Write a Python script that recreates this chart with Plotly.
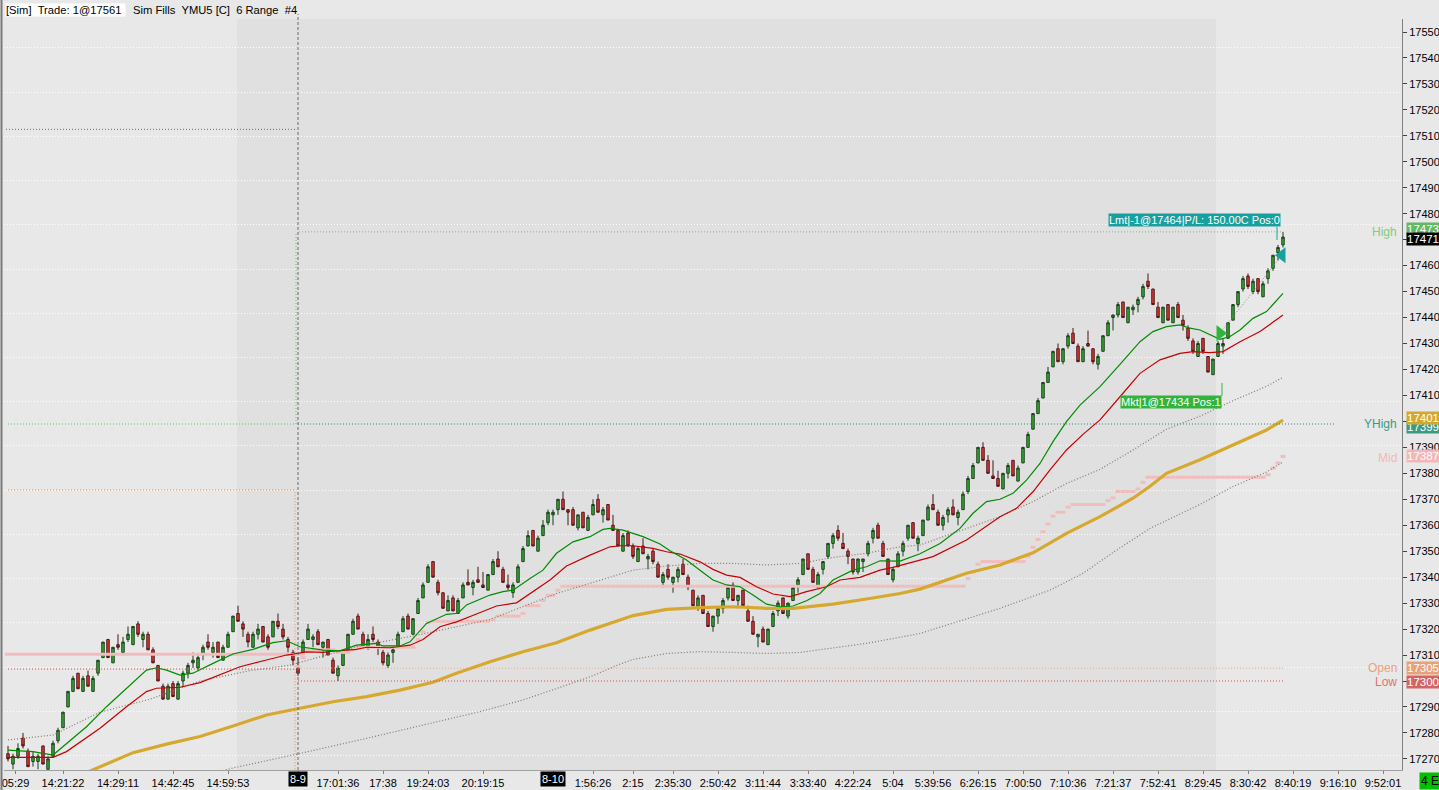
import plotly.graph_objects as go

# ---------------- data (6-range bars, YMU5) ----------------
bar_open = [17272,17268,17271,17278,17273,17269,17269,17275,17266,17271,17277,17282,17290,17296,17303,17296,17302,17296,17303,17309,
            17316,17307,17314,17311,17316,17314,17322,17316,17318,17312,17306,17298,17293,17299,17293,17300,17303,17307,17305,17310,
            17315,17311,17315,17308,17313,17319,17326,17322,17318,17313,17318,17321,17317,17317,17323,17320,17316,17311,17305,17311,
            17316,17316,17319,17313,17316,17308,17302,17306,17312,17318,17325,17318,17313,17318,17315,17311,17306,17311,17313,17319,
            17325,17318,17326,17332,17338,17346,17338,17334,17327,17332,17326,17332,17338,17336,17339,17337,17335,17341,17347,17343,
            17337,17334,17338,17346,17352,17358,17350,17356,17361,17364,17366,17370,17366,17366,17359,17365,17358,17364,17370,17364,
            17368,17360,17358,17350,17357,17352,17346,17352,17347,17350,17345,17338,17343,17338,17340,17345,17340,17335,17328,17333,
            17326,17321,17325,17328,17332,17337,17331,17335,17327,17323,17317,17320,17314,17321,17327,17332,17325,17331,17337,17341,
            17349,17343,17336,17343,17348,17353,17358,17353,17350,17347,17342,17346,17349,17355,17360,17353,17347,17339,17344,17350,
            17355,17361,17353,17356,17362,17368,17365,17360,17364,17367,17363,17366,17373,17378,17384,17390,17385,17379,17378,17374,
            17380,17385,17377,17384,17390,17397,17403,17409,17415,17421,17428,17423,17429,17434,17429,17423,17430,17428,17422,17427,
            17433,17440,17441,17446,17438,17443,17445,17448,17454,17451,17444,17438,17445,17438,17445,17439,17436,17431,17425,17432,
            17425,17418,17425,17429,17432,17439,17445,17451,17456,17450,17455,17448,17455,17459,17465,17468]
bar_high = [17275,17272,17276,17280,17274,17273,17272,17275,17271,17277,17282,17288,17296,17302,17303,17302,17304,17302,17308,17315,
            17316,17313,17318,17317,17321,17321,17323,17319,17319,17313,17306,17299,17299,17300,17300,17304,17307,17311,17310,17314,
            17318,17315,17315,17314,17319,17325,17329,17323,17319,17319,17322,17321,17318,17323,17326,17322,17317,17312,17309,17316,
            17322,17318,17320,17315,17316,17309,17306,17312,17318,17324,17326,17319,17318,17321,17316,17312,17311,17313,17319,17325,
            17326,17324,17332,17338,17345,17346,17339,17334,17333,17333,17332,17338,17343,17339,17344,17342,17341,17347,17350,17344,
            17341,17338,17345,17352,17358,17358,17356,17362,17366,17366,17370,17373,17366,17367,17364,17365,17364,17370,17372,17367,
            17368,17364,17358,17357,17358,17353,17352,17355,17349,17351,17346,17342,17345,17340,17344,17347,17341,17335,17333,17333,
            17327,17325,17328,17332,17337,17338,17333,17335,17329,17325,17318,17321,17320,17327,17331,17332,17330,17337,17340,17347,
            17349,17344,17342,17346,17353,17357,17360,17357,17351,17347,17347,17347,17354,17359,17361,17354,17347,17344,17350,17354,
            17360,17361,17356,17362,17368,17372,17366,17364,17367,17370,17366,17373,17379,17384,17390,17392,17387,17385,17381,17380,
            17384,17385,17383,17390,17396,17403,17409,17415,17421,17427,17430,17428,17434,17436,17430,17429,17435,17428,17426,17433,
            17439,17441,17446,17446,17444,17445,17448,17453,17457,17451,17446,17444,17445,17444,17446,17441,17437,17432,17431,17432,
            17425,17424,17431,17432,17438,17445,17450,17456,17457,17455,17455,17454,17459,17464,17468,17473]
bar_low = [17269,17266,17270,17274,17267,17267,17266,17268,17265,17271,17276,17282,17290,17296,17297,17296,17298,17296,17302,17309,
           17309,17307,17312,17311,17315,17314,17317,17313,17312,17307,17300,17293,17293,17294,17293,17298,17301,17305,17304,17308,
           17312,17309,17309,17308,17313,17319,17323,17317,17313,17313,17316,17315,17312,17317,17320,17316,17311,17306,17302,17310,
           17316,17313,17314,17309,17310,17303,17300,17306,17312,17318,17320,17313,17312,17315,17310,17306,17305,17307,17313,17319,
           17320,17318,17326,17332,17338,17340,17333,17328,17327,17327,17326,17332,17337,17333,17338,17336,17335,17341,17344,17338,
           17335,17332,17338,17346,17352,17352,17350,17356,17360,17360,17364,17366,17360,17360,17358,17359,17358,17364,17365,17361,
           17362,17358,17352,17350,17352,17347,17346,17349,17343,17345,17340,17336,17339,17334,17338,17341,17335,17329,17327,17326,
           17321,17319,17322,17326,17331,17331,17328,17329,17323,17318,17313,17315,17314,17321,17325,17326,17324,17331,17334,17341,
           17343,17338,17336,17341,17347,17351,17354,17351,17345,17341,17341,17342,17348,17353,17355,17348,17341,17338,17344,17348,
           17354,17355,17350,17356,17362,17366,17360,17358,17361,17364,17360,17366,17372,17378,17384,17385,17380,17378,17375,17374,
           17378,17379,17377,17384,17390,17397,17403,17409,17415,17421,17423,17422,17428,17430,17423,17423,17429,17422,17420,17427,
           17433,17435,17440,17440,17438,17441,17442,17447,17451,17445,17440,17438,17439,17438,17440,17435,17431,17426,17425,17426,
           17419,17418,17425,17426,17432,17439,17444,17450,17451,17449,17449,17448,17453,17458,17462,17467]
bar_close = [17270,17271,17274,17275,17267,17271,17271,17268,17270,17276,17281,17288,17296,17301,17297,17301,17298,17301,17308,17315,
             17309,17313,17313,17315,17318,17321,17318,17318,17312,17307,17300,17293,17298,17294,17299,17303,17306,17308,17309,17313,
             17313,17313,17309,17313,17318,17325,17323,17320,17315,17318,17320,17315,17313,17323,17321,17317,17313,17308,17303,17315,
             17320,17317,17314,17315,17310,17303,17305,17311,17318,17323,17320,17313,17316,17316,17313,17307,17310,17312,17318,17324,
             17320,17324,17331,17337,17344,17340,17334,17328,17331,17327,17331,17337,17337,17338,17338,17336,17341,17346,17344,17338,
             17336,17337,17344,17351,17356,17352,17355,17360,17365,17365,17370,17366,17365,17360,17364,17359,17363,17368,17365,17366,
             17362,17358,17352,17356,17352,17348,17351,17349,17348,17346,17340,17341,17340,17340,17343,17341,17336,17329,17332,17326,
             17321,17325,17328,17331,17336,17331,17333,17329,17323,17318,17318,17315,17320,17326,17330,17326,17330,17336,17339,17347,
             17343,17338,17341,17346,17353,17356,17355,17351,17348,17342,17347,17347,17353,17358,17355,17348,17341,17343,17349,17353,
             17360,17355,17355,17362,17367,17366,17360,17363,17366,17364,17365,17372,17378,17383,17390,17385,17380,17378,17375,17380,
             17383,17379,17382,17390,17395,17403,17408,17415,17419,17427,17423,17428,17433,17430,17423,17428,17429,17423,17425,17433,
             17438,17441,17445,17440,17444,17444,17447,17452,17452,17445,17440,17444,17439,17444,17440,17437,17432,17427,17430,17427,
             17419,17424,17430,17430,17438,17445,17450,17455,17452,17454,17450,17453,17458,17464,17467,17471]

# indicator values (bar index, price)
ema_fast_idx = [0,5,9,11.7,15.7,19.7,23.7,27.7,29.7,31.7,34.4,37,41,45,49,53,55.7,58.4,63,66.4,69.7,73.7,75,78.4,80.4,83.7,87.7,90,
                91.7,96.4,99,101,104.4,107,109.7,113,116.4,119,120.4,123,127,130.4,132.4,135.7,138.4,141,143.7,146.4,149,151.7,154.4,
                157,159.7,162.4,165,169,171.7,174.4,178.4,182.4,186.4,190.4,193,195.7,198.4,201,203.7,206.4,209,211.7,214.4,217,218.4,
                222.4,226.4,229,231.7,234.4,236.4,238.4,240.4,242.4,244.4,246.4,249,251.7,255]
ema_fast_val = [17273.4,17272.8,17271.5,17276,17282.4,17290.1,17297.2,17304.2,17305.1,17304.2,17302.3,17303,17306.8,17310.4,17312.2,
                17314.8,17315.5,17313.2,17311.9,17311.6,17313.8,17314.5,17313.5,17313.5,17315.1,17322.2,17325.7,17326.1,17329.3,17333.1,
                17334.4,17335,17339.5,17342.7,17349.2,17353.6,17355.6,17358.4,17358.8,17358.1,17355.6,17352.8,17350.2,17346.6,17342.7,
                17338.9,17337,17336.3,17333.1,17329.6,17328.6,17328.9,17330.9,17333.7,17338.9,17342.7,17344,17346.3,17346.2,17349,17353,
                17358.8,17364.6,17369.1,17370,17372.3,17377.4,17383.8,17392.2,17399.9,17406.3,17410.8,17413.4,17422,17430.7,17434.6,
                17436.5,17437.2,17435.9,17435.2,17433.3,17431.6,17432.7,17435.2,17439.7,17442.3,17449.3]
ema_slow_idx = [0,9,11.7,18.4,23.7,27.7,29.7,34.4,38.4,42.4,46.4,51.7,55.7,59.7,63,65,69.7,71.7,76.4,80.4,83,86.4,89.7,93.7,97.7,
                101.7,104.4,108.4,111.7,116.4,120.4,122.4,125,129,131.7,134.4,138.4,141,143.7,146.4,149.7,153,156.4,159.7,163.7,166.4,
                170.4,174.4,177,181,185,191.7,198.4,201.7,205,208.4,211.7,215,218.4,222.4,226.4,230.4,234.4,237,240.4,243,246.4,250.4,255]
ema_slow_val = [17270.6,17270.6,17272.8,17281.8,17290.1,17295.9,17297.2,17297.6,17299.4,17302.3,17305.5,17308.1,17310,17311.2,17311,
                17311.5,17312.2,17313,17312.8,17313.8,17316,17320.9,17322.8,17325.8,17328.9,17330.1,17333.7,17338.9,17344.3,17348.5,
                17351.7,17352.1,17352.1,17351.1,17349.8,17348.9,17345.9,17343,17340.8,17339.9,17336.3,17333.5,17332.5,17334.4,17336.3,
                17338.9,17339.9,17342.7,17343.8,17345.9,17347.9,17354.3,17363.3,17366.5,17372.9,17381.3,17389,17395,17400.6,17409.5,
                17418.5,17423.7,17426.2,17426.9,17426.5,17426.9,17430.7,17434.6,17441]
sma_idx = [10,17.7,25,31.7,38.4,45,51.7,58.4,65,71.7,78.4,85,89.7,96.4,103,109.7,116.4,122.4,125,131.7,138.4,145,151.7,157,165,171.7,
           178.4,182.4,191.7,198.4,205,211.7,218.4,225,228.4,231.7,238.4,245,251.7,255]
sma_val = [17260,17266.4,17272.4,17275.7,17278.6,17282.7,17286.9,17289.5,17292,17294,17296.5,17299.5,17303,17307.4,17311.3,17314.7,
           17319.6,17323.5,17325.2,17327.6,17328.3,17328.6,17328,17328,17329.6,17331.6,17333.7,17335.4,17341.5,17344.7,17349.4,17356.9,
           17363.3,17370.4,17375,17380,17385.2,17390.9,17396.7,17400.5]
env_up_idx = [0,9,18.4,28.4,38.4,48.4,56.4,62,69.7,83,96.4,109.7,118.4,125,131.7,138.4,145,151.7,158.4,165,171.7,178.4,182.4,191.7,
              198.4,205,211.7,218.4,225,231.7,238.4,245,251.7,255]
env_up_val = [17277.3,17279.2,17288,17293,17300,17304,17306.1,17309,17313.2,17318.1,17323.7,17333.7,17338.9,17342.7,17344.3,17345.3,
              17345.3,17344.7,17345.3,17347.6,17349.2,17351.7,17352.4,17358.8,17363.3,17369.1,17376.1,17381.5,17389,17397,17402,17408,
              17413.5,17417]
env_dn_idx = [36,45,58.4,71.7,94.4,103,109.7,116.4,122.4,125,131.7,138.4,145,151.7,158.4,165,171.7,182.4,191.7,198.4,208.4,215,221.7,
              228.4,238.4,245,251.7,255]
env_dn_val = [17262,17266.5,17272.1,17277.9,17288.2,17292.7,17297.1,17301.6,17306.5,17308.3,17310.6,17311.3,17311,17310.6,17311,17312.6,
              17314.5,17318.3,17324,17328,17335,17341.5,17350.4,17358.8,17368,17374.9,17380.5,17384.4]

# session / reference levels
session_start = 58
yhigh = 17399
prev_ref_high = 17512.5
prev_open = 17373.6
prev_low = 17304.6
prev_mid = 17310.3
entry_bar, entry_price = 242.4, 17434
exit_bar, exit_price = 254.8, 17464
last_price = 17471
sma_last = 17401

tick_idx = [1.5,11,22,33,44,58,66,75,84,95,109,117,125,133,142,151,160,169,177,185,194,203,212,221,230,239,248,257,266,275]
tick_text = ["05:29","14:21:22","14:29:11","14:42:45","14:59:53","","17:01:36","17:38","19:24:03","20:19:15","",
             "1:56:26","2:15","2:35:30","2:50:42","3:11:44","3:33:40","4:22:24","5:04","5:39:56","6:26:15","7:00:50",
             "7:10:36","7:21:37","7:52:41","8:29:45","8:30:42","8:40:19","9:16:10","9:52:01"]
date_marks = [(58, "8-9"), (109, "8-10")]

# ---------------- derived session values ----------------
n = len(bar_close)
idx = list(range(n))
sess_high = max(bar_high[session_start:])
sess_low = min(bar_low[session_start:])
sess_open = bar_open[session_start]

mid_x, mid_y = [], []
hi, lo = -1e9, 1e9
for i in range(session_start, n):
    hi = max(hi, bar_high[i]); lo = min(lo, bar_low[i])
    m = (hi + lo) / 2
    mid_x += [i - 0.5, i + 0.5, None]
    mid_y += [m, m, None]
mid_last = (sess_high + sess_low) / 2

# ---------------- geometry helpers ----------------
W, H = 1439, 790
ML, MR, MT, MB = 4, 37, 19, 20
PW, PH = W - ML - MR, H - MT - MB
def PX(x): return (x - ML) / PW
def PY(y): return (H - MB - y) / PH
def XI(x): return (x - 8) / 5.0

FONT = "Liberation Sans, Arial, sans-serif"

fig = go.Figure()

fig.add_trace(go.Scatter(x=mid_x, y=mid_y, mode="lines", line=dict(color="#f2bcbc", width=3), hoverinfo="skip"))
fig.add_trace(go.Scatter(x=[-0.6, 59.4], y=[prev_mid, prev_mid], mode="lines", line=dict(color="#f2bcbc", width=3), hoverinfo="skip"))
fig.add_trace(go.Scatter(x=sma_idx, y=sma_val, mode="lines", line=dict(color="#d6a82e", width=3.2), hoverinfo="skip"))
fig.add_trace(go.Scatter(x=env_up_idx, y=env_up_val, mode="lines", line=dict(color="#86776b", width=1.2, dash="1px,2px"), hoverinfo="skip"))
fig.add_trace(go.Scatter(x=env_dn_idx, y=env_dn_val, mode="lines", line=dict(color="#86776b", width=1.2, dash="1px,2px"), hoverinfo="skip"))
fig.add_trace(go.Scatter(x=ema_slow_idx, y=ema_slow_val, mode="lines", line=dict(color="#c80000", width=1.2), hoverinfo="skip"))
fig.add_trace(go.Scatter(x=ema_fast_idx, y=ema_fast_val, mode="lines", line=dict(color="#008c00", width=1.2), hoverinfo="skip"))

fig.add_trace(go.Candlestick(
    x=idx, open=bar_open, high=bar_high, low=bar_low, close=bar_close,
    increasing=dict(fillcolor="#34b234", line=dict(color="#1d3a1d", width=1)),
    decreasing=dict(fillcolor="#e23a3a", line=dict(color="#4a1414", width=1)),
    whiskerwidth=0, hoverinfo="skip"))

# trade markers
fig.add_trace(go.Scatter(x=[entry_bar, exit_bar], y=[entry_price, exit_price], mode="lines",
                         line=dict(color="#8a8a8a", width=1, dash="1px,2px"), hoverinfo="skip"))
fig.add_trace(go.Scatter(x=[entry_bar], y=[entry_price], mode="markers",
                         marker=dict(symbol="triangle-right", size=14, color="#32b43c"), hoverinfo="skip"))
fig.add_trace(go.Scatter(x=[exit_bar], y=[exit_price], mode="markers",
                         marker=dict(symbol="triangle-left", size=14, color="#18a0a0"), hoverinfo="skip"))

DOT = "1px,2px"
shapes = []
def hline(x0, x1, y, color, dash=DOT, width=1):
    shapes.append(dict(type="line", xref="x", yref="y", x0=x0, x1=x1, y0=y, y1=y,
                       line=dict(color=color, width=width, dash=dash), layer="above"))
def vline(x, y0, y1, color, dash=DOT, width=1):
    shapes.append(dict(type="line", xref="x", yref="y", x0=x, x1=x, y0=y0, y1=y1,
                       line=dict(color=color, width=width, dash=dash), layer="above"))

# session shading
shapes.append(dict(type="rect", xref="x", yref="paper", x0=XI(237), x1=XI(1216), y0=0, y1=1,
                   fillcolor="#e0e0e0", line=dict(width=0), layer="below"))
# previous-session reference lines
hline(-0.4, 57.4, prev_ref_high, "#2a8a78")
hline(0, 57.4, yhigh, "#62c262")
vline(57.6, yhigh, sess_high, "#62c262")
hline(0, 57.4, prev_open, "#f08a40")
vline(57.4, 17266, prev_open, "#f08a40")
hline(0, 57.6, prev_low, "#e04848")
# current session lines
hline(58.2, n - 1, sess_high, "#8fae8f")
hline(58, XI(1335), yhigh, "#2a8a78")
hline(58, n - 1, sess_open, "#f0956a")
hline(58, n - 1, sess_low, "#e04848")
# trade label stems
vline(242.8, 17409.8, 17414.8, "#32b43c", dash="solid")
vline(253.8, 17469.9, 17474.9, "#18a0a0", dash="solid")
# session break
shapes.append(dict(type="line", xref="x", yref="paper", x0=58, x1=58, y0=0, y1=PY(14),
                   line=dict(color="#6a6a6a", width=1, dash="3px,2px"), layer="above"))
# left border
shapes.append(dict(type="line", xref="paper", yref="paper", x0=PX(1.5), x1=PX(1.5), y0=PY(H), y1=PY(0),
                   line=dict(color="#7a7a7a", width=2)))

ann = []
def box(y, text, bg, fg="#ffffff"):
    ann.append(dict(xref="paper", yref="y", x=PX(1406), y=y, xanchor="left", yanchor="middle",
                    text=text, showarrow=False, bgcolor=bg, borderpad=0,
                    font=dict(family=FONT, size=11.5, color=fg)))
def tag(y, text, color):
    ann.append(dict(xref="paper", yref="y", x=PX(1399), y=y, xanchor="right", yanchor="middle",
                    text=text, showarrow=False, font=dict(family=FONT, size=12, color=color)))

box(sess_high + 1, str(sess_high), "#63b863")
box(last_price - 0.8, str(last_price), "#000000")
tag(sess_high, "High", "#7ccf7c")
box(yhigh - 1.3, str(yhigh), "#3a9a84")
box(sma_last + 0.5, str(sma_last), "#d4a82c")
tag(yhigh, "YHigh", "#3a9a84")
box(mid_last, str(round(mid_last + 0.01)), "#f2b8b8")
tag(mid_last - 0.5, "Mid", "#f2b8b8")
box(sess_open, str(sess_open), "#e8a27a")
tag(sess_open, "Open", "#e8a27a")
box(sess_low - 0.2, str(sess_low), "#d46464")
tag(sess_low - 0.4, "Low", "#e07070")

# trade labels
ann.append(dict(xref="x", yref="y", x=XI(1281), y=17477.6, xanchor="right", yanchor="middle",
                text="Lmt|-1@%d|P/L: 150.00C Pos:0" % exit_price, showarrow=False, bgcolor="#18a0a0",
                borderpad=0, font=dict(family=FONT, size=11, color="#ffffff")))
ann.append(dict(xref="x", yref="y", x=XI(1222), y=17407.3, xanchor="right", yanchor="middle",
                text="Mkt|1@%d Pos:1" % entry_price, showarrow=False, bgcolor="#32b43c",
                borderpad=0, font=dict(family=FONT, size=11, color="#ffffff")))

# title
ann.append(dict(xref="paper", yref="paper", x=PX(5), y=PY(10), xanchor="left", yanchor="middle",
                text="[Sim]\u00a0\u00a0Trade: 1@17561\u00a0", showarrow=False, bgcolor="#ffffff", borderpad=0,
                font=dict(family=FONT, size=11.2, color="#000000")))
ann.append(dict(xref="paper", yref="paper", x=PX(131), y=PY(10), xanchor="left", yanchor="middle",
                text="Sim Fills\u00a0\u00a0YMU5 [C]\u00a0\u00a06 Range\u00a0\u00a0#4", showarrow=False,
                font=dict(family=FONT, size=11.2, color="#000000")))
# date boxes on the time axis
for xi, t in date_marks:
    ann.append(dict(xref="x", yref="paper", x=xi, y=PY(779), xanchor="center", yanchor="middle",
                    text=t, showarrow=False, bgcolor="#000000", borderpad=1,
                    font=dict(family=FONT, size=11, color="#ffffff")))
# bottom-right status box
ann.append(dict(xref="paper", yref="paper", x=PX(1419), y=PY(781), xanchor="left", yanchor="middle",
                text="4 E", showarrow=False, bgcolor="#00c000", borderpad=1,
                font=dict(family=FONT, size=12, color="#000000")))

p_top = 17550 + (32 - MT) / 2.596
p_bot = 17550 - (H - MB - 32) / 2.596

fig.update_layout(
    width=W, height=H,
    margin=dict(l=ML, r=MR, t=MT, b=MB, autoexpand=False),
    paper_bgcolor="#e8e8e8", plot_bgcolor="#e8e8e8",
    showlegend=False, hovermode=False,
    font=dict(family=FONT, size=11, color="#000000"),
    shapes=shapes, annotations=ann,
    xaxis=dict(range=[XI(ML), XI(W - MR)], rangeslider=dict(visible=False), showgrid=False, zeroline=False,
               tickmode="array", tickvals=tick_idx, ticktext=tick_text, ticks="outside", ticklen=3,
               tickcolor="#808080", showline=True, linecolor="#a0a0a0", linewidth=1,
               tickfont=dict(family=FONT, size=11, color="#000000"), automargin=False, fixedrange=True),
    yaxis=dict(side="right", range=[p_bot, p_top], tick0=17270, dtick=10, tickformat="d", showgrid=False, zeroline=False,
               ticks="outside", ticklen=4, tickcolor="#404040", showline=True, linecolor="#808080", linewidth=1,
               tickfont=dict(family=FONT, size=11, color="#000000"), automargin=False, fixedrange=True,
               minor=dict(tick0=17373.5, dtick=17.04, showgrid=True, gridcolor="#ffffff", griddash="1px,2px",
                          gridwidth=1, ticks="")),
)

fig.write_html("out.html", config={"displayModeBar": False},
               post_script="document.body.style.margin='0px';document.body.style.overflow='hidden';")
